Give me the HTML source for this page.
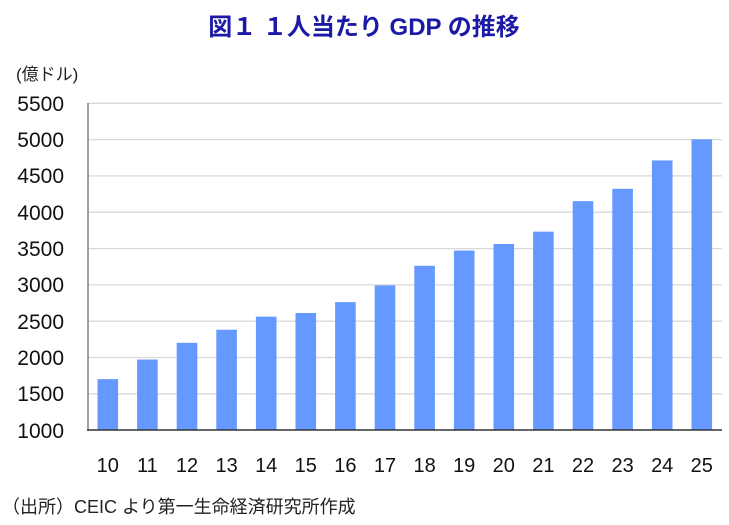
<!DOCTYPE html>
<html><head><meta charset="utf-8"><style>
body{margin:0;background:#fff;width:729px;height:520px;overflow:hidden}
svg text{font-family:"Liberation Sans","Noto Sans CJK JP",sans-serif}
</style></head><body>
<svg width="729" height="520" xmlns="http://www.w3.org/2000/svg">
<text x="364" y="35" text-anchor="middle" font-size="24" font-weight="bold" fill="#1a1aa6">図１ １人当たり GDP の推移</text>
<text x="16" y="80" font-size="17" fill="#222">(億ドル)</text>
<g stroke="#d9d9d9" stroke-width="1.3">
<line x1="88" x2="722" y1="103.3" y2="103.3"/><line x1="88" x2="722" y1="139.6" y2="139.6"/>
<line x1="88" x2="722" y1="175.9" y2="175.9"/><line x1="88" x2="722" y1="212.2" y2="212.2"/>
<line x1="88" x2="722" y1="248.6" y2="248.6"/><line x1="88" x2="722" y1="284.9" y2="284.9"/>
<line x1="88" x2="722" y1="321.2" y2="321.2"/><line x1="88" x2="722" y1="357.5" y2="357.5"/>
<line x1="88" x2="722" y1="393.8" y2="393.8"/>
</g>
<g font-size="21" fill="#111" text-anchor="end">
<text x="64" y="111">5500</text><text x="64" y="147">5000</text><text x="64" y="183">4500</text>
<text x="64" y="220">4000</text><text x="64" y="256">3500</text><text x="64" y="292">3000</text>
<text x="64" y="329">2500</text><text x="64" y="365">2000</text><text x="64" y="401">1500</text>
<text x="64" y="438">1000</text>
</g>
<g fill="#6699ff" id="bars"></g>
<line x1="88" x2="88" y1="103" y2="430.5" stroke="#808080" stroke-width="1.5"/>
<line x1="87" x2="722" y1="430" y2="430" stroke="#333" stroke-width="1.5"/>
<g font-size="20" fill="#111" text-anchor="middle" id="xl"></g>
<text x="2" y="513" font-size="18" fill="#222">（出所）CEIC より第一生命経済研究所作成</text>
<script>
var v=[1700,1970,2200,2380,2560,2610,2760,2990,3260,3470,3560,3730,4150,4320,4710,5000];
var b=document.getElementById('bars'),x=document.getElementById('xl'),ns='http://www.w3.org/2000/svg';
v.forEach(function(d,i){var c=88+39.6*(i+0.5);var y=430-(d-1000)*0.07266;
var r=document.createElementNS(ns,'rect');r.setAttribute('x',c-10.3);r.setAttribute('width',20.6);r.setAttribute('y',y);r.setAttribute('height',430-y);b.appendChild(r);
var t=document.createElementNS(ns,'text');t.setAttribute('x',c);t.setAttribute('y',472);t.textContent=10+i;x.appendChild(t);});
</script>
</svg>
</body></html>
